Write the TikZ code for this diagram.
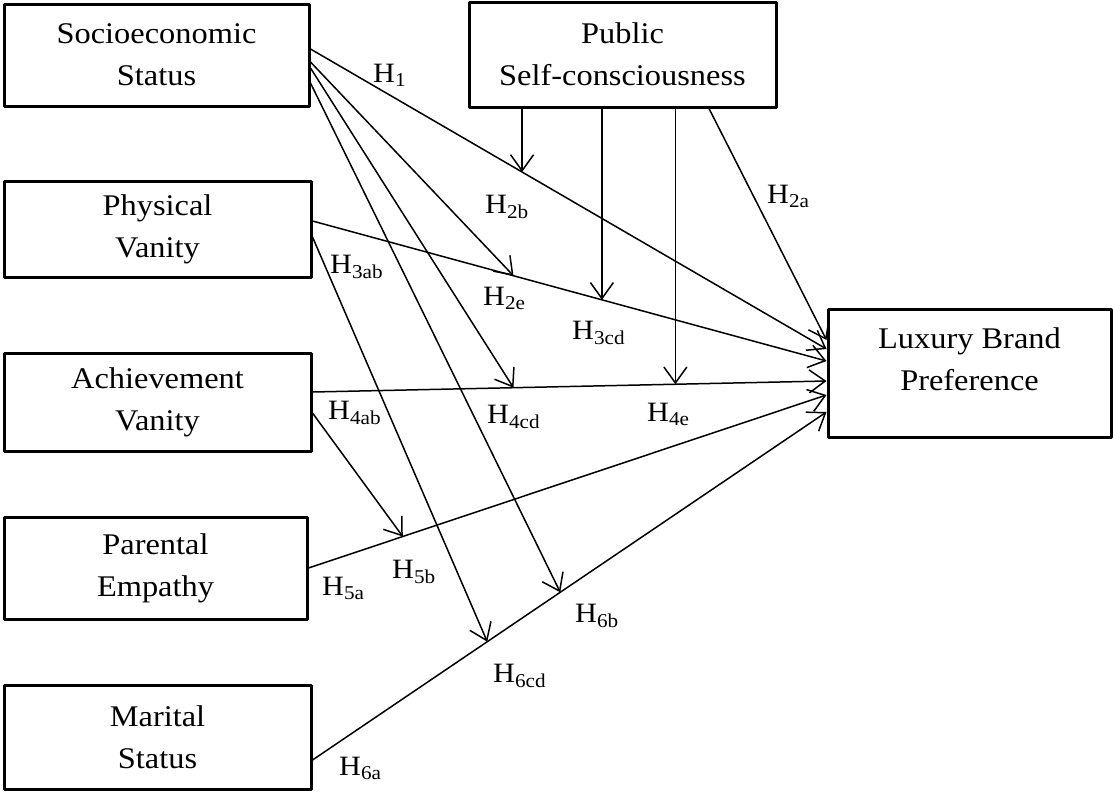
\documentclass[tikz,border=0pt]{standalone}
\usepackage{fontspec}
\setmainfont{Liberation Serif}[FakeStretch=1.08]
\usetikzlibrary{arrows.meta}
\begin{document}
\begin{tikzpicture}[x=1pt,y=-1pt,>={Straight Barb[length=16pt,width=23pt]},line join=round,line cap=round,
	box/.style={draw,line width=3pt,align=center,inner sep=0pt,font=\fontsize{30}{42}\selectfont},
	link/.style={->,line width=1.5pt},
	hyp/.style={anchor=base west,inner sep=0pt,font=\fontsize{28}{30}\selectfont}]
	\useasboundingbox (0,0) rectangle (1113,793);
	\node [box,minimum width=305pt,minimum height=102pt] (socio) at (156.5,55) {Socioeconomic\\Status};
	\node [box,minimum width=307pt,minimum height=96pt] (phys) at (157.5,229) {Physical\\Vanity};
	\node [box,minimum width=307pt,minimum height=98pt] (achv) at (157.5,402) {Achievement\\Vanity};
	\node [box,minimum width=303pt,minimum height=102pt] (parent) at (155.5,568) {Parental\\Empathy};
	\node [box,minimum width=307pt,minimum height=104pt] (marital) at (157.5,737) {Marital\\Status};
	\node [box,minimum width=307pt,minimum height=105pt] (pub) at (622.5,54.5) {Public\\Self-consciousness};
	\node [box,minimum width=283pt,minimum height=128pt,text depth=27pt] (lux) at (969.5,373) {Luxury Brand\\Preference};
	\draw [link] ([yshift=6pt]socio.east) -- coordinate[pos=0.41] (m2b) ([yshift=24pt]lux.west);
	\draw [link] ([xshift=86.5pt]pub.south) -- ([yshift=33pt]lux.west);
	\draw [link] ([yshift=8pt]phys.east) -- coordinate[pos=0.391] (m2e) coordinate[pos=0.563] (m3cd) ([yshift=12pt]lux.west);
	\draw [link] ([yshift=10pt]achv.east) -- coordinate[pos=0.391] (m4cd) coordinate[pos=0.706] (m4e) ([yshift=-8pt]lux.west);
	\draw [link] (parent.east) -- coordinate[pos=0.182] (m4ab) ([yshift=-22pt]lux.west);
	\draw [link] ([yshift=-23pt]marital.east) -- coordinate[pos=0.34] (m6cd) coordinate[pos=0.482] (m6b) ([yshift=-39pt]lux.west);
	\draw [link] (pub.south -| m2b) -- (m2b);
	\draw [link] (pub.south -| m3cd) -- (m3cd);
	\draw [link] (pub.south -| m4e) -- (m4e);
	\draw [link] ([yshift=-7pt]socio.east) -- (m2e);
	\draw [link] ([yshift=-13pt]socio.east) -- (m4cd);
	\draw [link] ([yshift=-28pt]socio.east) -- (m6b);
	\draw [link] ([yshift=-8pt]phys.east) -- (m6cd);
	\draw [link] ([yshift=-11pt]achv.east) -- (m4ab);
	\node [hyp] (h1) at (373,82) {H\textsubscript{1}};
	\node [hyp] (h2b) at (485,213) {H\textsubscript{2b}};
	\node [hyp] (h2a) at (767,203) {H\textsubscript{2a}};
	\node [hyp] (h3ab) at (330,273) {H\textsubscript{3ab}};
	\node [hyp] (h2e) at (483,305) {H\textsubscript{2e}};
	\node [hyp] (h3cd) at (572,339) {H\textsubscript{3cd}};
	\node [hyp] (h4ab) at (328,419) {H\textsubscript{4ab}};
	\node [hyp] (h4cd) at (487,423) {H\textsubscript{4cd}};
	\node [hyp] (h4e) at (647,421) {H\textsubscript{4e}};
	\node [hyp] (h5a) at (322,595) {H\textsubscript{5a}};
	\node [hyp] (h5b) at (392,578) {H\textsubscript{5b}};
	\node [hyp] (h6b) at (575,622) {H\textsubscript{6b}};
	\node [hyp] (h6cd) at (493,682) {H\textsubscript{6cd}};
	\node [hyp] (h6a) at (339,775) {H\textsubscript{6a}};
\end{tikzpicture}
\end{document}
